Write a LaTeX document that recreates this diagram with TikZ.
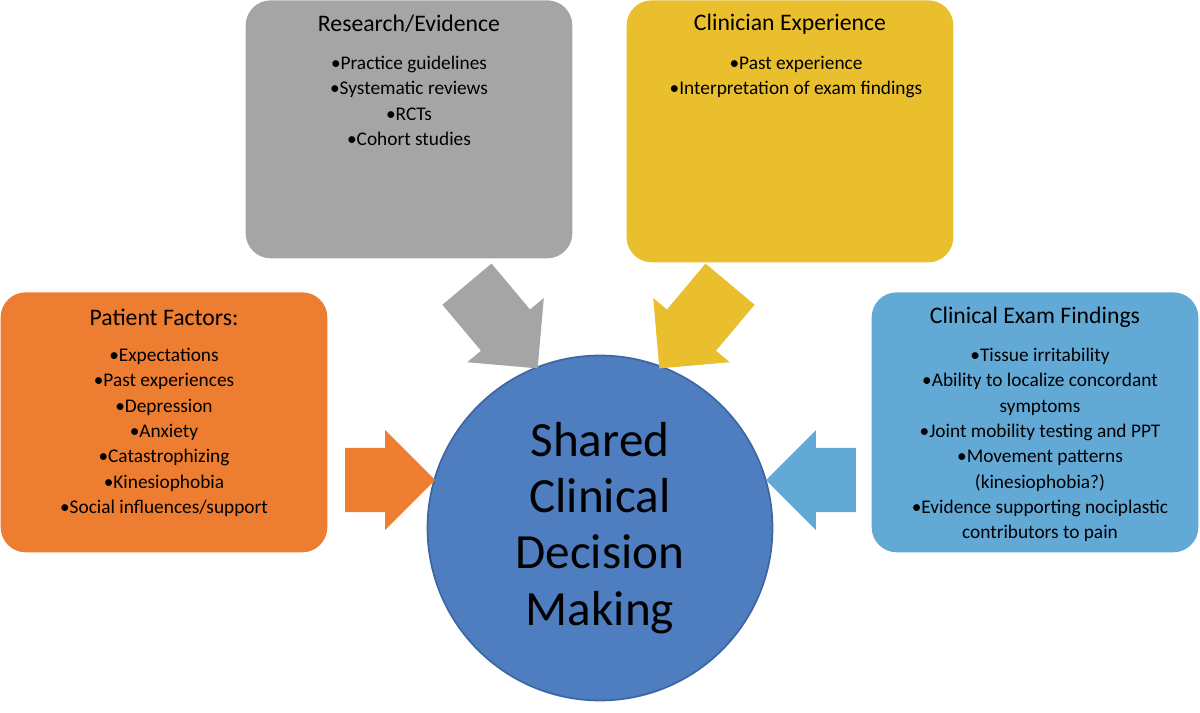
\documentclass[tikz,border=0pt]{standalone}
\usepackage{fontspec}
\setmainfont{Carlito}
\usetikzlibrary{shapes.arrows}
\definecolor{grayBox}{HTML}{A5A5A5}
\definecolor{yellowBox}{HTML}{E9BF2E}
\definecolor{orangeBox}{HTML}{ED7D31}
\definecolor{blueBox}{HTML}{63A9D6}
\definecolor{circFill}{HTML}{4F7EC0}
\definecolor{circEdge}{HTML}{3D66A3}
\begin{document}
\begin{tikzpicture}[x=0.02cm, y=-0.02cm]
  \tikzset{factor/.style = { rounded corners=0.5cm, minimum width=6.5cm, minimum height=5.2cm, text width=6.3cm, align=center, anchor=north, font=\fontsize{11}{14}\selectfont }}
  \tikzset{title/.style = { font=\fontsize{13.5}{16}\selectfont }}
  \tikzset{bigarrow/.style = { single arrow, minimum height=2.2cm, minimum width=2cm, single arrow head extend=0.2cm, inner sep=0.35cm }}
  \useasboundingbox (0,0) rectangle (1200,713);

  % boxes
  \node[name = research, factor, fill=grayBox, minimum height=5.16cm] at (409,0) {};
  \node[name = clinician, factor, fill=yellowBox, minimum height=5.24cm] at (790,0) {};
  \node[name = patient, factor, fill=orangeBox] at (164,292) {};
  \node[name = exam, factor, fill=blueBox] at (1035,292) {};

  \node[name = researchT, title] at (409,24) {Research/Evidence};
  \node[name = researchL, anchor=north, align=center, font=\fontsize{11}{14.4}\selectfont] at (409,50) {•Practice guidelines\\•Systematic reviews\\•RCTs\\•Cohort studies};

  \node[name = clinicianT, title] at (790,24) {Clinician Experience};
  \node[name = clinicianL, anchor=north, align=center, font=\fontsize{11}{14.4}\selectfont] at (796,50) {•Past experience\\•Interpretation of exam findings};

  \node[name = patientT, title] at (164,317) {Patient Factors:};
  \node[name = patientL, anchor=north, align=center, font=\fontsize{11}{14.4}\selectfont] at (164,342) {•Expectations\\•Past experiences\\•Depression\\•Anxiety\\•Catastrophizing\\•Kinesiophobia\\•Social influences/support};

  \node[name = examT, title] at (1035,317) {Clinical Exam Findings};
  \node[name = examL, anchor=north, align=center, font=\fontsize{11}{14.4}\selectfont] at (1040,342) {•Tissue irritability\\•Ability to localize concordant\\symptoms\\•Joint mobility testing and PPT\\•Movement patterns\\(kinesiophobia?)\\•Evidence supporting nociplastic\\contributors to pain};

  % centre
  \node[name = shared, circle, fill=circFill, draw=circEdge, line width=1pt, minimum size=6.9cm, align=center, font=\fontsize{28}{32}\selectfont] at (600,528) {Shared\\Clinical\\Decision\\Making};

  % arrows
  \node[name = arrR, bigarrow, fill=grayBox, rotate=-50] at (492,314) {};
  \node[name = arrC, bigarrow, fill=yellowBox, rotate=-130] at (705,314) {};
  \node[name = arrP, bigarrow, fill=orangeBox, minimum height=1.8cm] at (374,480) {};
  \node[name = arrE, bigarrow, fill=blueBox, minimum height=1.8cm, shape border rotate=180] at (827,480) {};
\end{tikzpicture}
\end{document}
